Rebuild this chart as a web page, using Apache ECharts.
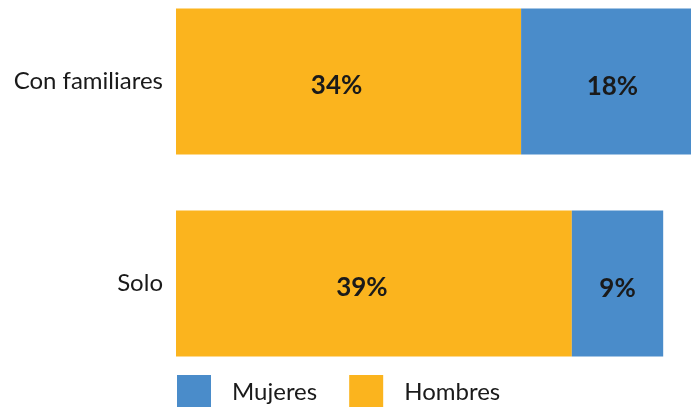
<!DOCTYPE html>
<html><head><meta charset="utf-8">
<script src="https://cdn.jsdelivr.net/npm/echarts@6/dist/echarts.min.js"></script>
<style>html,body{margin:0;padding:0;background:#fff}#c{width:691px;height:407px}</style>
</head><body><div id="c"></div>
<script>
const categories = ['Con familiares', 'Solo'];
const hombres = [34, 39];
const mujeres = [18, 9];
const legendNames = ['Mujeres', 'Hombres'];

const chart = echarts.init(document.getElementById('c'), null, {renderer: 'canvas'});
const font = 'Lato';
chart.setOption({
  animation: false,
  grid: {left: 176, right: 0, top: 81.5, height: 202, containLabel: false},
  xAxis: {type: 'value', min: 0, max: 50.74, show: false},
  yAxis: {
    type: 'category', data: categories, inverse: true, boundaryGap: false,
    axisLine: {show: false}, axisTick: {show: false}, splitLine: {show: false},
    axisLabel: {fontFamily: font, fontSize: 24, color: '#1a1a1a', margin: 13}
  },
  legend: {
    data: legendNames, left: 177, top: 375, padding: 0, itemWidth: 34, itemHeight: 34, itemGap: 32,
    icon: 'rect',
    textStyle: {fontFamily: font, fontSize: 24, color: '#1a1a1a', padding: [0, 0, 0, 16]}
  },
  series: [
    {
      name: 'Hombres', type: 'bar', stack: 't', data: hombres, barWidth: 146, clip: false,
      itemStyle: {color: '#FBB41E'},
      label: {show: true, position: 'inside', offset: [-12, 4], formatter: '{c}%',
        fontFamily: font, fontSize: 26, fontWeight: 'bold', color: '#1a1a1a'}
    },
    {
      name: 'Mujeres', type: 'bar', stack: 't', data: mujeres, barWidth: 146, clip: false,
      itemStyle: {color: '#4A8CCA'},
      label: {show: true, position: 'inside', offset: [0, 5], formatter: '{c}%',
        fontFamily: font, fontSize: 26, fontWeight: 'bold', color: '#1a1a1a'}
    }
  ]
});
</script></body></html>
